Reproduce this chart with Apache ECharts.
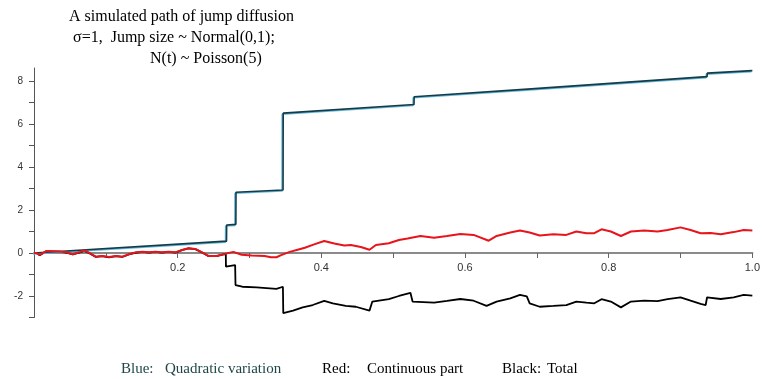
<!DOCTYPE html>
<html>
<head>
<meta charset="utf-8">
<script src="https://cdn.jsdelivr.net/npm/echarts@6/dist/echarts.min.js"></script>
<style>html,body{margin:0;padding:0;background:#fff;}#c{width:763px;height:379px;}</style>
</head>
<body>
<div id="c"></div>
<script>
// Quadratic variation (blue) knots
var blueT = [0, 0.268, 0.2682, 0.281, 0.2812, 0.3467, 0.3469, 0.529, 0.5292, 0.687, 0.6872, 0.937, 0.9372, 1.0];
var blueV = [0, 0.55, 1.30, 1.33, 2.82, 2.93, 6.50, 6.90, 7.26, 7.62, 7.69, 8.20, 8.36, 8.48];

// Continuous part (red)
var redT = [0,0.003,0.008,0.017,0.035,0.045,0.054,0.063,0.07,0.077,0.086,0.095,0.1045,0.114,0.123,0.132,0.141,0.151,0.16,0.169,0.178,0.1875,0.197,0.206,0.215,0.2245,0.234,0.243,0.254,0.267,0.2775,0.289,0.303,0.321,0.33,0.3375,0.344,0.356,0.367,0.377,0.39,0.404,0.418,0.432,0.441,0.455,0.467,0.476,0.494,0.508,0.52,0.538,0.557,0.575,0.5935,0.612,0.633,0.644,0.663,0.6765,0.69,0.704,0.723,0.741,0.755,0.769,0.78,0.79,0.803,0.817,0.831,0.8495,0.868,0.882,0.9,0.914,0.928,0.942,0.956,0.974,0.988,1.0];
var redV = [0,0.0,-0.09,0.09,0.07,0.03,-0.06,0.03,0.12,0.0,-0.17,-0.14,-0.19,-0.14,-0.17,-0.06,0.02,0.06,0.03,0.06,0.03,0.06,0.03,0.14,0.22,0.19,0.03,-0.14,-0.14,-0.03,0.05,-0.08,-0.12,-0.14,-0.2,-0.2,-0.1,0.05,0.15,0.24,0.4,0.56,0.44,0.35,0.37,0.28,0.15,0.37,0.45,0.6,0.67,0.79,0.71,0.79,0.88,0.84,0.57,0.79,0.95,1.04,0.95,0.81,0.87,0.84,1.0,0.92,0.92,1.1,1.0,0.79,1.0,1.04,1.0,1.07,1.19,1.07,0.92,0.93,0.87,0.97,1.07,1.04];

// Total (black)
var blackT = [0,0.003,0.008,0.017,0.035,0.045,0.054,0.063,0.07,0.077,0.086,0.095,0.1045,0.114,0.123,0.132,0.141,0.151,0.16,0.169,0.178,0.1875,0.197,0.206,0.215,0.2245,0.234,0.243,0.254,0.267,0.2672,0.28,0.2805,0.29,0.31,0.3236,0.3375,0.3465,0.347,0.3606,0.374,0.388,0.404,0.416,0.434,0.448,0.467,0.471,0.494,0.508,0.524,0.527,0.557,0.575,0.5935,0.612,0.63,0.644,0.663,0.6765,0.686,0.69,0.704,0.723,0.741,0.755,0.769,0.78,0.79,0.803,0.817,0.831,0.8495,0.868,0.882,0.9,0.914,0.928,0.935,0.937,0.956,0.974,0.988,1.0];
var blackV = [0,0.0,-0.1,0.08,0.06,0.02,-0.07,0.02,0.1,-0.01,-0.18,-0.15,-0.2,-0.15,-0.18,-0.07,0.01,0.05,0.02,0.05,0.02,0.05,0.02,0.13,0.21,0.18,0.02,-0.15,-0.15,-0.04,-0.64,-0.56,-1.49,-1.57,-1.6,-1.63,-1.67,-1.57,-2.8,-2.68,-2.53,-2.42,-2.23,-2.34,-2.46,-2.5,-2.68,-2.26,-2.15,-2.0,-1.85,-2.26,-2.31,-2.23,-2.14,-2.22,-2.46,-2.26,-2.11,-1.95,-2.02,-2.34,-2.5,-2.46,-2.42,-2.26,-2.31,-2.34,-2.15,-2.26,-2.53,-2.26,-2.22,-2.24,-2.15,-2.06,-2.22,-2.37,-2.42,-2.06,-2.14,-2.06,-1.95,-1.98];

// Ticks and labels
var xTickValues = [0.1,0.2,0.3,0.4,0.5,0.6,0.7,0.8,0.9,1.0];
var xLabelValues = [0.2,0.4,0.6,0.8,1.0];
var yTickValues = [-3,-2,-1,0,1,2,3,4,5,6,7,8];
var yLabelValues = [-2,0,2,4,6,8];
var yMin = -3, yMax = 8.6;

function pairs(t, v) { return t.map(function (x, i) { return [x, v[i]]; }); }

var gridTop = 68, gridBottom = 61.5, H = 379;
var plotH = H - gridTop - gridBottom;
var zeroOffset = -plotH * (0 - yMin) / (yMax - yMin); // move x axis up to y = 0

var serif = '"Liberation Serif", "Times New Roman", serif';
var chart = echarts.init(document.getElementById('c'), null, {renderer: 'canvas'});
chart.setOption({
  animation: false,
  backgroundColor: '#ffffff',
  grid: {left: 34, right: 4, top: gridTop, bottom: gridBottom, containLabel: false},
  xAxis: {
    type: 'value', min: 0, max: 1, interval: 0.1, position: 'bottom', offset: zeroOffset,
    splitLine: {show: false},
    axisLine: {onZero: false, lineStyle: {color: '#8a8a8a', width: 2}},
    axisTick: {customValues: xTickValues, length: 5, lineStyle: {color: '#666'}},
    axisLabel: {customValues: xLabelValues, margin: 9, color: '#333', fontSize: 11,
      fontFamily: '"Liberation Sans", Arial, sans-serif',
      formatter: function (v) { return v.toFixed(1); }}
  },
  yAxis: {
    type: 'value', min: yMin, max: yMax, interval: 1,
    splitLine: {show: false},
    axisLine: {onZero: false, lineStyle: {color: '#555', width: 1}},
    axisTick: {customValues: yTickValues, length: 5, lineStyle: {color: '#555'}},
    axisLabel: {customValues: yLabelValues, margin: 11, color: '#333', fontSize: 10,
      fontFamily: '"Liberation Sans", Arial, sans-serif'}
  },
  series: [
    {type: 'line', data: pairs(blackT, blackV), showSymbol: false, symbol: 'none',
      lineStyle: {color: '#000000', width: 1.8}},
    {type: 'line', data: pairs(blueT, blueV), showSymbol: false, symbol: 'none',
      lineStyle: {color: '#163a46', width: 1.6, shadowColor: '#5fb8dc', shadowBlur: 0, shadowOffsetX: -1, shadowOffsetY: 1}},
    {type: 'line', data: pairs(redT, redV), showSymbol: false, symbol: 'none',
      lineStyle: {color: '#e8141c', width: 2}}
  ],
  graphic: [
    {type: 'text', left: 69, top: 9, style: {text: 'A simulated path of jump diffusion', font: '16px ' + serif, fill: '#000'}},
    {type: 'text', left: 73, top: 30, style: {text: 'σ=1,  Jump size ~ Normal(0,1);', font: '16px ' + serif, fill: '#000'}},
    {type: 'text', left: 150, top: 51, style: {text: 'N(t) ~ Poisson(5)', font: '16px ' + serif, fill: '#000'}},
    {type: 'text', left: 121, top: 362, style: {text: 'Blue:', font: '15px ' + serif, fill: '#1e4646'}},
    {type: 'text', left: 165, top: 362, style: {text: 'Quadratic variation', font: '15px ' + serif, fill: '#1e4646'}},
    {type: 'text', left: 322, top: 362, style: {text: 'Red:', font: '15px ' + serif, fill: '#000'}},
    {type: 'text', left: 367, top: 362, style: {text: 'Continuous part', font: '15px ' + serif, fill: '#000'}},
    {type: 'text', left: 502, top: 362, style: {text: 'Black:', font: '15px ' + serif, fill: '#000'}},
    {type: 'text', left: 547, top: 362, style: {text: 'Total', font: '15px ' + serif, fill: '#000'}}
  ]
});
</script>
</body>
</html>
